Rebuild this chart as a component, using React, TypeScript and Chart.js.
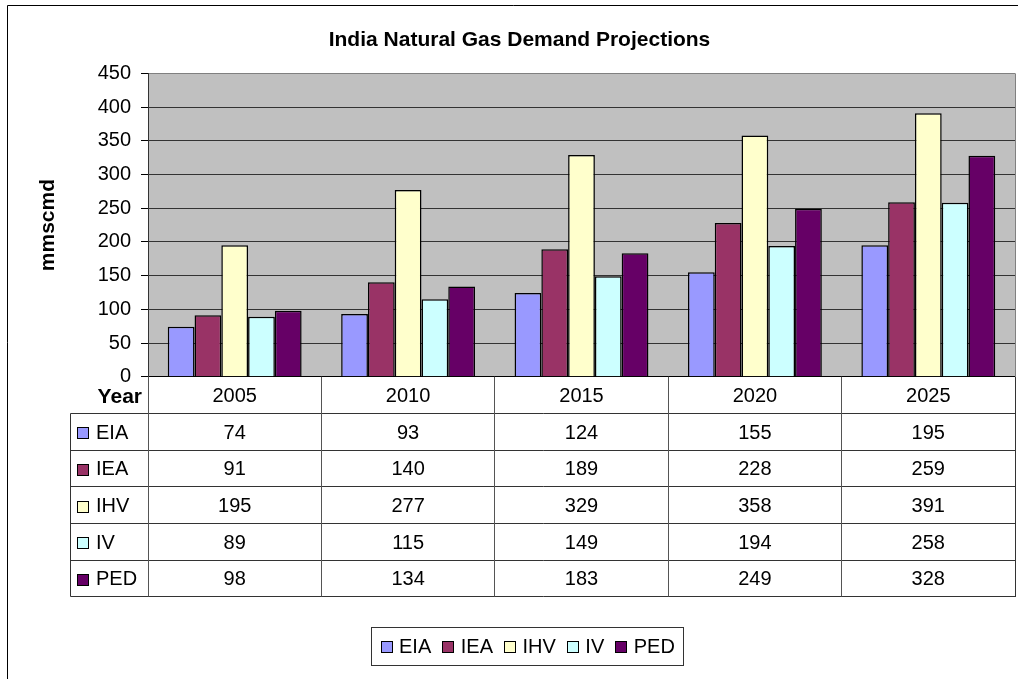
import React, { useEffect, useRef } from "react";
import { Chart, registerables } from "chart.js";

Chart.register(...registerables);

const chartTitle = "India Natural Gas Demand Projections";
const yAxisTitle = "mmscmd";
const tableHeaderLabel = "Year";
const years = ["2005", "2010", "2015", "2020", "2025"];
const seriesNames = ["EIA", "IEA", "IHV", "IV", "PED"];
const eiaValues = [74, 93, 124, 155, 195];
const ieaValues = [91, 140, 189, 228, 259];
const ihvValues = [195, 277, 329, 358, 391];
const ivValues = [89, 115, 149, 194, 258];
const pedValues = [98, 134, 183, 249, 328];
const seriesColors = ["#9999FF", "#993366", "#FFFFCC", "#CCFFFF", "#660066"];
const yMin = 0;
const yMax = 450;
const yStep = 50;

const FONT = '"Liberation Sans", Arial, Helvetica, sans-serif';

const crisp = (v: number) => Math.round(v - 0.5) + 0.5;

const decorPlugin = {
  id: "excelDecor",
  beforeDraw(chart: any) {
    const { ctx, chartArea: a } = chart;
    ctx.save();
    ctx.fillStyle = "#ffffff";
    ctx.fillRect(0, 0, chart.width, chart.height);
    // outer chart frame
    ctx.strokeStyle = "#000000";
    ctx.lineWidth = 1;
    ctx.beginPath();
    ctx.moveTo(7.5, chart.height + 5);
    ctx.lineTo(7.5, 5.5);
    ctx.lineTo(chart.width + 5, 5.5);
    ctx.stroke();
    // plot area background
    ctx.fillStyle = "#C0C0C0";
    ctx.fillRect(a.left, a.top, a.right - a.left, a.bottom - a.top);
    ctx.restore();
  },
  afterDraw(chart: any) {
    const { ctx, chartArea: a } = chart;
    const xs = chart.scales.x;
    const labels: string[] = chart.data.labels;
    const datasets = chart.data.datasets;
    ctx.save();

    // right plot border (gray)
    ctx.strokeStyle = "#808080";
    ctx.lineWidth = 1;
    ctx.beginPath();
    ctx.moveTo(crisp(a.right), a.top);
    ctx.lineTo(crisp(a.right), a.bottom);
    ctx.stroke();

    // title
    ctx.fillStyle = "#000";
    ctx.font = `bold 21px ${FONT}`;
    ctx.textAlign = "center";
    ctx.textBaseline = "middle";
    ctx.fillText(chartTitle, 519.5, 40);

    // data table
    const n = labels.length;
    const colW = (xs.right - xs.left) / n;
    const rowH = 36.67;
    const top = a.bottom;
    const nRows = 1 + datasets.length;
    const bottom = top + nRows * rowH;
    const tableLeft = 70.5;

    ctx.lineWidth = 1;
    // horizontal lines
    ctx.strokeStyle = "#333333";
    for (let r = 1; r <= nRows; r++) {
      const y = crisp(top + r * rowH);
      ctx.beginPath();
      ctx.moveTo(tableLeft, y);
      ctx.lineTo(crisp(xs.right) + 0.5, y);
      ctx.stroke();
    }
    // left border of series rows
    ctx.beginPath();
    ctx.moveTo(tableLeft, crisp(top + rowH));
    ctx.lineTo(tableLeft, crisp(bottom));
    ctx.stroke();
    // right border
    ctx.beginPath();
    ctx.moveTo(crisp(xs.right), top);
    ctx.lineTo(crisp(xs.right), crisp(bottom));
    ctx.stroke();
    // column separators
    ctx.strokeStyle = "#555555";
    for (let k = 0; k < n; k++) {
      const x = crisp(xs.left + k * colW);
      ctx.beginPath();
      ctx.moveTo(x, top);
      ctx.lineTo(x, crisp(bottom));
      ctx.stroke();
    }

    // header row
    ctx.fillStyle = "#000";
    ctx.textBaseline = "middle";
    ctx.font = `bold 21px ${FONT}`;
    ctx.textAlign = "right";
    ctx.fillText(tableHeaderLabel, xs.left - 6, top + rowH / 2 + 2);
    ctx.font = `20px ${FONT}`;
    ctx.textAlign = "center";
    for (let i = 0; i < n; i++) {
      ctx.fillText(labels[i], xs.getPixelForValue(i), top + rowH / 2 + 1);
    }
    // series rows
    datasets.forEach((ds: any, j: number) => {
      const cy = top + (j + 1) * rowH + rowH / 2 + 1.5;
      ctx.fillStyle = ds.backgroundColor;
      ctx.fillRect(77, Math.round(cy - 6), 12, 12);
      ctx.strokeStyle = "#000";
      ctx.strokeRect(77.5, Math.round(cy - 6) + 0.5, 11, 11);
      ctx.fillStyle = "#000";
      ctx.textAlign = "left";
      ctx.fillText(ds.label, 96, cy);
      ctx.textAlign = "center";
      ds.data.forEach((v: number, i: number) => {
        ctx.fillText(String(v), xs.getPixelForValue(i), cy);
      });
    });

    // legend
    ctx.font = `20px ${FONT}`;
    const box = 12;
    const gapText = 6.5;
    const gapItem = 11;
    const widths = datasets.map((ds: any) => ctx.measureText(ds.label).width);
    const inner =
      widths.reduce((s: number, w: number) => s + w + box + gapText, 0) + gapItem * (datasets.length - 1);
    const padX = 9;
    const lw = inner + padX * 2;
    const lcx = 527.7;
    const lx = lcx - lw / 2;
    const ly = 627.5;
    const lh = 38;
    ctx.strokeStyle = "#333333";
    ctx.strokeRect(crisp(lx), crisp(ly), Math.round(lw), Math.round(lh));
    let x = lx + padX;
    const cy = ly + lh / 2 + 0.5;
    datasets.forEach((ds: any, j: number) => {
      ctx.fillStyle = ds.backgroundColor;
      const bx = Math.round(x);
      const by = Math.round(cy - 6);
      ctx.fillRect(bx, by, box, box);
      ctx.strokeStyle = "#000";
      ctx.strokeRect(bx + 0.5, by + 0.5, box - 1, box - 1);
      ctx.fillStyle = "#000";
      ctx.textAlign = "left";
      ctx.fillText(ds.label, x + box + gapText, cy);
      x += box + gapText + widths[j] + gapItem;
    });

    ctx.restore();
  },
};

export default function App() {
  const canvasRef = useRef<HTMLCanvasElement | null>(null);

  useEffect(() => {
    const canvas = canvasRef.current;
    if (!canvas) return;
    Chart.defaults.font.family = FONT;
    Chart.defaults.color = "#000";
    const seriesValues = [eiaValues, ieaValues, ihvValues, ivValues, pedValues];
    const chart = new Chart(canvas, {
      type: "bar",
      data: {
        labels: years,
        datasets: seriesNames.map((name, i) => ({
          label: name,
          data: seriesValues[i],
          backgroundColor: seriesColors[i],
          borderColor: "#000000",
          borderWidth: 1.5,
          categoryPercentage: 0.772,
          barPercentage: 1.0,
        })),
      },
      options: {
        responsive: false,
        animation: false,
        devicePixelRatio: 1,
        layout: { padding: { left: 0, right: 3, top: 73.4, bottom: 302.3 } },
        plugins: {
          legend: { display: false },
          title: { display: false },
          tooltip: { enabled: false },
        },
        scales: {
          x: {
            type: "category",
            display: false,
            offset: true,
            grid: { display: false },
          },
          y: {
            min: yMin,
            max: yMax,
            afterFit: (scale: any) => {
              scale.width = 148;
            },
            ticks: {
              stepSize: yStep,
              padding: 10,
              color: "#000",
              font: { size: 20, family: FONT },
            },
            grid: {
              color: (c: any) =>
                c.tick && c.tick.value === yMin ? "#000000" : c.tick && c.tick.value === yMax ? "#808080" : "#333333",
              lineWidth: 1,
              tickLength: 7,
              tickColor: "#000000",
            },
            border: { display: true, color: "#333333", width: 1 },
            title: {
              display: true,
              text: yAxisTitle,
              color: "#000",
              font: { size: 21, weight: "bold", family: FONT },
              padding: { top: 35.4, bottom: 0 },
            },
          },
        },
      },
      plugins: [decorPlugin],
    });
    return () => chart.destroy();
  }, []);

  return (
    <div style={{ position: "absolute", left: 0, top: 0, width: 1018, height: 679 }}>
      <canvas ref={canvasRef} width={1018} height={679} style={{ width: 1018, height: 679, display: "block" }} />
    </div>
  );
}
